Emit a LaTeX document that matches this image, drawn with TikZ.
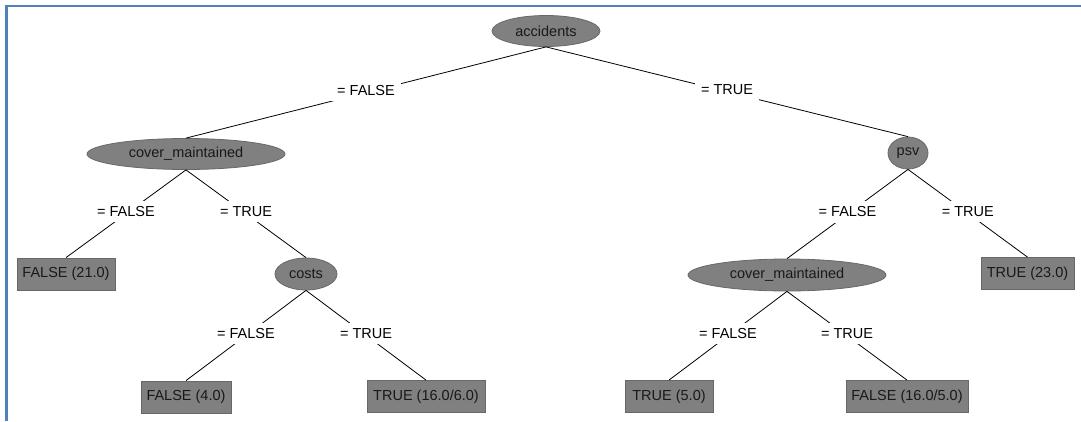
\documentclass[tikz,border=0pt]{standalone}
\usepackage{fontspec}
\setmainfont{Liberation Sans}
\usetikzlibrary{shapes.geometric}
\definecolor{frameblue}{RGB}{79,129,189}
\definecolor{nodegray}{RGB}{128,128,128}
\definecolor{nodeedge}{RGB}{104,104,104}
\begin{document}
\begin{tikzpicture}[x=1pt,y=-1pt,
  font=\fontsize{14.5}{17}\selectfont,
  split/.style={ellipse, fill=nodegray, draw=nodeedge, line width=0.8pt,
    inner sep=0pt, minimum height=31pt, text=black!90},
  leaf/.style={rectangle, fill=nodegray, draw=nodeedge, line width=0.8pt,
    inner sep=0pt, minimum height=32pt, text=black!90},
  lbl/.style={fill=white, inner xsep=6pt, inner ysep=5.5pt, text=black,
    yshift=2pt},
  edge/.style={draw=black, line width=0.8pt}]
\useasboundingbox (0,0) rectangle (1081,421);
\fill[white] (0,0) rectangle (1081,421);
\draw[frameblue, line width=2.6pt] (6.5,421) -- (6.5,6) -- (1081,6);

% decision nodes
\node[split, minimum width=108pt] (root) at (546,31) {accidents};
\node[split, minimum width=198pt] (cmA) at (186,154) {cover\_maintained};
\node[split, minimum width=40pt, minimum height=32pt] (psv) at (908,153) {psv};
\node[split, minimum width=62pt, minimum height=32pt] (costs) at (306,274) {costs};
\node[split, minimum width=198pt, minimum height=32pt] (cmB) at (787,275) {cover\_maintained};

% leaves
\node[leaf, minimum width=98pt] (l21) at (66,274) {FALSE (21.0)};
\node[leaf, minimum width=93pt] (l23) at (1027.5,273.5) {TRUE (23.0)};
\node[leaf, minimum width=90pt] (l4) at (186,397) {FALSE (4.0)};
\node[leaf, minimum width=118pt] (l166) at (426,396.5) {TRUE (16.0/6.0)};
\node[leaf, minimum width=88pt] (l5) at (669,396.5) {TRUE (5.0)};
\node[leaf, minimum width=122pt] (l165) at (907,396.5) {FALSE (16.0/5.0)};

% branches with their tests
\draw[edge] (root.south) -- node[lbl] {= FALSE} (cmA.north);
\draw[edge] (root.south) -- node[lbl] {= TRUE} (psv.north);
\draw[edge] (cmA.south) -- node[lbl] {= FALSE} (l21.north);
\draw[edge] (cmA.south) -- node[lbl] {= TRUE} (costs.north);
\draw[edge] (costs.south) -- node[lbl] {= FALSE} (l4.north);
\draw[edge] (costs.south) -- node[lbl] {= TRUE} (l166.north);
\draw[edge] (psv.south) -- node[lbl] {= FALSE} (cmB.north);
\draw[edge] (psv.south) -- node[lbl] {= TRUE} (l23.north);
\draw[edge] (cmB.south) -- node[lbl] {= FALSE} (l5.north);
\draw[edge] (cmB.south) -- node[lbl] {= TRUE} (l165.north);
\end{tikzpicture}
\end{document}
